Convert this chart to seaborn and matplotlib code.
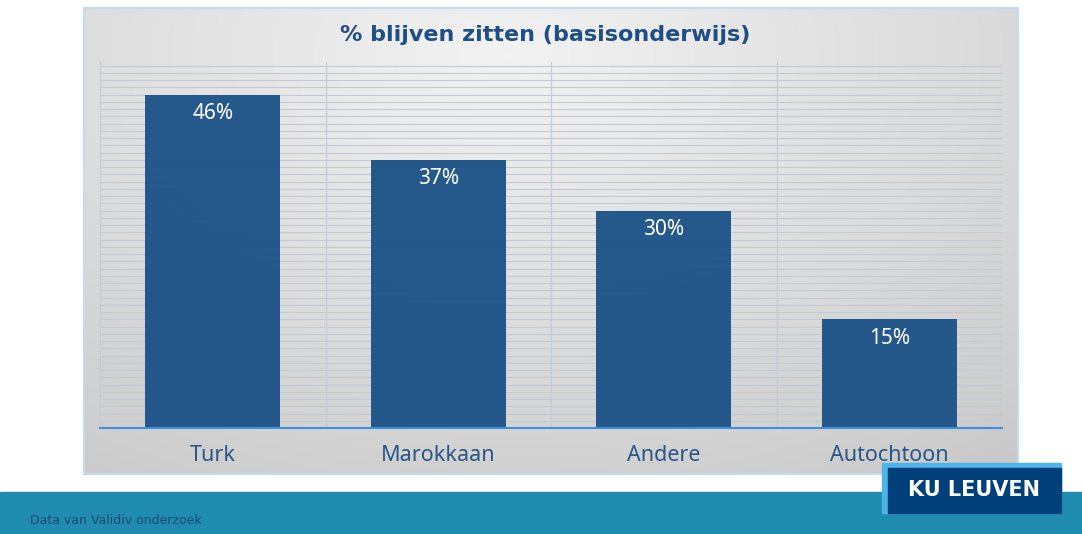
import matplotlib
matplotlib.use("Agg")
import matplotlib.pyplot as plt
import seaborn as sns
import numpy as np
import pandas as pd
from matplotlib.patches import Rectangle

# data
groups = ["Turk", "Marokkaan", "Andere", "Autochtoon"]
pct = [46, 37, 30, 15]
labels = ["46%", "37%", "30%", "15%"]

df = pd.DataFrame({"groep": groups, "pct": pct})

sns.set_style("white")
plt.rcParams['font.family'] = ['Noto Sans', 'DejaVu Sans']

fig = plt.figure(figsize=(10.82, 5.34), dpi=100)
fig.patch.set_facecolor("white")

# grey gradient panel behind the chart: light near the top centre, darker at the edges
bg = fig.add_axes([84/1082, 60/534, 934/1082, 466/534], zorder=0)
gx, gy = np.meshgrid(np.linspace(0, 1, 300), np.linspace(0, 1, 150))
dist = np.sqrt(((gx - 0.45) / 0.9) ** 2 + ((gy - 0.1) / 1.1) ** 2)
shade = 0.95 - 0.16 * np.clip(dist, 0, 1)
rgb = np.dstack([shade, shade, shade])
bg.imshow(rgb, aspect="auto", extent=[0, 1, 0, 1], origin="upper")
bg.set_xticks([])
bg.set_yticks([])
for s in bg.spines.values():
    s.set_color("#c3dbf2")
    s.set_linewidth(1.5)

# main plot
ax = fig.add_axes([100/1082, 106/534, 902/1082, 366/534], zorder=1)
ax.patch.set_alpha(0)
sns.barplot(data=df, x="groep", y="pct", color="#1f5488", width=0.6,
            saturation=1, ax=ax, zorder=2, alpha=0.97, linewidth=0)

ax.set_ylim(0, 50.5)
ax.set_xlim(-0.5, 3.5)
ax.set_yticks(np.arange(0, 51, 1))
ax.set_yticklabels([])
ax.set_xticks(np.arange(-0.5, 3.6, 0.5), minor=True)
ax.grid(True, axis="y", color="#c2cad6", lw=0.8, zorder=0)
ax.grid(True, axis="x", which="minor", color="#c2cad6", lw=0.8, zorder=0)
ax.tick_params(axis="y", length=0)
ax.tick_params(axis="x", which="both", length=0, pad=12, labelsize=15.5,
               labelcolor="#2a5587")
ax.set_xlabel("")
ax.set_ylabel("")
for s in ["top", "right", "left"]:
    ax.spines[s].set_visible(False)
ax.spines["bottom"].set_color("#3d8fe0")
ax.spines["bottom"].set_linewidth(1.5)

for p, lab in zip(ax.patches, labels):
    ax.text(p.get_x() + p.get_width() / 2, p.get_height() - 2.6, lab,
            ha="center", va="center", color="white", fontsize=15, zorder=3)

fig.text(0.504, 0.934, "% blijven zitten (basisonderwijs)", ha="center",
         va="center", fontsize=16, fontweight="bold", color="#1f4e85",
         family=["DejaVu Sans"])

# teal footer band and logo
fig.patches.append(Rectangle((0, 0), 1, 42/534, transform=fig.transFigure,
                             color="#208caf", zorder=0))
fig.patches.append(Rectangle((882/1082, 21/534), 179/1082, 50/534,
                             transform=fig.transFigure, color="#4db3e8", zorder=2))
fig.patches.append(Rectangle((888/1082, 21/534), 173/1082, 45/534,
                             transform=fig.transFigure, color="#00407a", zorder=3))
fig.text(974/1082, 44/534, "KU LEUVEN", ha="center", va="center",
         fontsize=15, fontweight="bold", color="white", zorder=4,
         family=["DejaVu Sans"])
fig.text(30/1082, 13/534, "Data van Validiv onderzoek", ha="left",
         va="center", fontsize=9, color="#1d4a78", family=["DejaVu Sans"])

fig.savefig("out.png", dpi=100)
